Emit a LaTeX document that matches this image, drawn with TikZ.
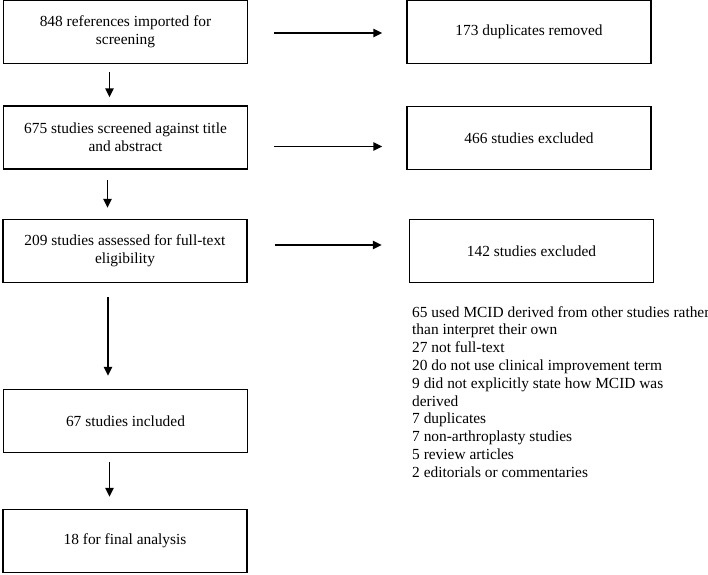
\documentclass[tikz,border=0pt]{standalone}
\usepackage{fontspec}
\setmainfont{Liberation Serif}
\usepackage{tikz}
\usetikzlibrary{arrows.meta}

\tikzset{
  box/.style={draw,line width=1.5pt,minimum width=244pt,minimum height=63pt,align=center,inner sep=2pt},
  arr/.style={-{Triangle[length=9pt,width=8.5pt]},line width=1.6pt}
}

\begin{document}
\begin{tikzpicture}[x=1pt,y=-1pt,font=\fontsize{15.4}{18.3}\selectfont]
\useasboundingbox (0,0) rectangle (708,574);
% left column
\node[box] (imp) at (125.5,32) {848 references imported for\\screening};
\node[box] (scr) at (125.5,137.5) {675 studies screened against title\\and abstract};
\node[box] (ful) at (125,251) {209 studies assessed for full-text\\eligibility};
\node[box] (inc) at (125.5,421) {67 studies included};
\node[box] (fin) at (125,541) {18 for final analysis};
% right column
\node[box] (dup) at (529,32) {173 duplicates removed};
\node[box] (exa) at (529,138) {466 studies excluded};
\node[box] (exb) at (531.5,251) {142 studies excluded};
\node[anchor=north west,align=left,inner sep=0pt,font=\fontsize{15.4}{17.8}\selectfont] (rsn) at (412,306)
  {65 used MCID derived from other studies rather\\
   than interpret their own\\
   27 not full-text\\
   20 do not use clinical improvement term\\
   9 did not explicitly state how MCID was\\
   derived\\
   7 duplicates\\
   7 non-arthroplasty studies\\
   5 review articles\\
   2 editorials or commentaries};
% arrows down
\draw[arr,shorten <=8pt,shorten >=8pt] ([xshift=-16pt]imp.south) -- ([xshift=-16pt]scr.north);
\draw[arr,shorten <=10pt,shorten >=11pt] ([xshift=-18pt]scr.south) -- ([xshift=-18pt]scr.south |- ful.north);
\draw[arr,shorten <=14pt,shorten >=13pt] ([xshift=-17pt]ful.south) -- ([xshift=-17pt]ful.south |- inc.north);
\draw[arr,shorten <=9pt,shorten >=12pt] ([xshift=-16pt]inc.south) -- ([xshift=-16pt]inc.south |- fin.north);
% arrows right
\draw[arr,shorten <=26pt,shorten >=24pt] ([yshift=-1pt]imp.east) -- ([yshift=-1pt]dup.west);
\draw[arr,shorten <=26pt,shorten >=24pt] ([yshift=-9pt]scr.east) -- ([yshift=-9pt]scr.east -| exa.west);
\draw[arr,shorten <=27pt,shorten >=27pt] ([yshift=6pt]ful.east) -- ([yshift=6pt]ful.east -| exb.west);
\end{tikzpicture}
\end{document}
